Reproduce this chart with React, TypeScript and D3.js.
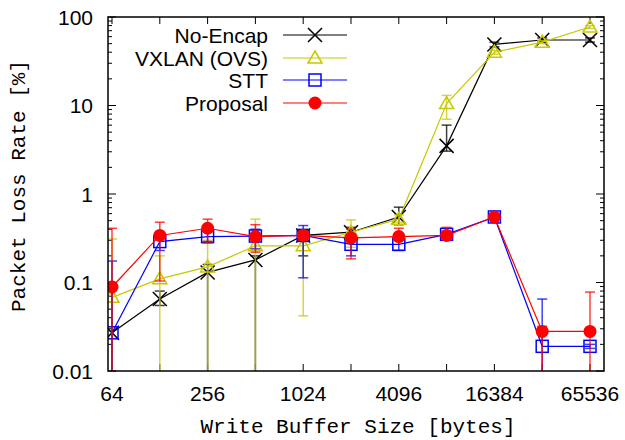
import { useEffect, useRef } from 'react';
import * as d3 from 'd3';

const sizes = [64, 128, 256, 512, 1024, 2048, 4096, 8192, 16384, 32768, 65536];
const xTickLabels = [64, 256, 1024, 4096, 16384, 65536];
const yTickLabels = [0.01, 0.1, 1, 10, 100];

// values and error bar limits (lower, upper) in %
const noEncap = [0.027, 0.065, 0.13, 0.18, 0.34, 0.37, 0.55, 3.5, 49, 55, 55];
const noEncapLo = [0.001, 0.055, 0.001, 0.001, 0.2, 0.33, 0.45, 3.05, 46, 52, 52];
const noEncapHi = [0.1, 0.08, 0.16, 0.2, 0.38, 0.42, 0.71, 6.0, 52, 58, 58];

const vxlan = [0.068, 0.11, 0.15, 0.26, 0.26, 0.37, 0.52, 10.5, 40, 52, 77];
const vxlanLo = [0.001, 0.001, 0.001, 0.001, 0.042, 0.25, 0.48, 7.0, 38, 50, 74];
const vxlanHi = [0.31, 0.2, 0.3, 0.52, 0.4, 0.51, 0.58, 13, 42, 54, 80];

const stt = [0.027, 0.29, 0.33, 0.335, 0.34, 0.27, 0.27, 0.35, 0.55, 0.019, 0.019];
const sttLo = [0.001, 0.23, 0.29, 0.24, 0.113, 0.2, 0.23, 0.32, 0.52, 0.001, 0.018];
const sttHi = [0.175, 0.36, 0.38, 0.4, 0.44, 0.34, 0.32, 0.38, 0.58, 0.065, 0.02];

const proposal = [0.089, 0.34, 0.41, 0.33, 0.34, 0.32, 0.33, 0.34, 0.55, 0.028, 0.028];
const proposalLo = [0.001, 0.104, 0.28, 0.22, 0.3, 0.185, 0.3, 0.31, 0.52, 0.001, 0.001];
const proposalHi = [0.41, 0.48, 0.52, 0.45, 0.38, 0.4, 0.41, 0.42, 0.6, 0.032, 0.078];

const seriesNames = ['No-Encap', 'VXLAN (OVS)', 'STT', 'Proposal'];
const seriesColors = ['#000000', '#c8c800', '#0000ff', '#ff0000'];
const seriesMarkers = ['cross', 'triangle', 'square', 'circle'];

const App = () => {
  const svgRef = useRef<SVGSVGElement>(null);

  useEffect(() => {
    const svg = d3.select(svgRef.current);
    svg.selectAll('*').remove();

    const left = 108, right = 604, top = 17, bottom = 371;
    const x = d3.scaleLog().base(2).domain([64, 65536]).range([112, 590]);
    const y = d3.scaleLog().domain([0.01, 100]).range([bottom, top]);

    const series = [
      { v: noEncap, lo: noEncapLo, hi: noEncapHi },
      { v: vxlan, lo: vxlanLo, hi: vxlanHi },
      { v: stt, lo: sttLo, hi: sttHi },
      { v: proposal, lo: proposalLo, hi: proposalHi },
    ];

    svg.append('defs').append('clipPath').attr('id', 'plot-clip')
      .append('rect').attr('x', left).attr('y', top)
      .attr('width', right - left).attr('height', bottom - top);

    const ticks = svg.append('g').attr('stroke', '#000').attr('stroke-width', 1);
    // y ticks (major + minor), left and right, pointing inward
    yTickLabels.forEach((d, i) => {
      [left, right].forEach((ax, k) => {
        const dir = k === 0 ? 1 : -1;
        ticks.append('line').attr('x1', ax).attr('x2', ax + dir * 8)
          .attr('y1', y(d)).attr('y2', y(d));
        if (i < yTickLabels.length - 1) {
          for (let m = 2; m < 10; m++) {
            const yy = y(d * m);
            ticks.append('line').attr('x1', ax).attr('x2', ax + dir * 4)
              .attr('y1', yy).attr('y2', yy);
          }
        }
      });
    });
    // x ticks at every power of two
    sizes.forEach(d => {
      [bottom, top].forEach((ay, k) => {
        const dir = k === 0 ? -1 : 1;
        ticks.append('line').attr('x1', x(d)).attr('x2', x(d))
          .attr('y1', ay).attr('y2', ay + dir * 7);
      });
    });

    const labels = svg.append('g')
      .attr('font-family', '"Liberation Sans", Arial, sans-serif')
      .attr('font-size', 21).attr('fill', '#000');
    yTickLabels.forEach(d => {
      labels.append('text').attr('x', 93).attr('y', y(d)).attr('dy', '0.36em')
        .attr('text-anchor', 'end').text(String(d));
    });
    xTickLabels.forEach(d => {
      labels.append('text').attr('x', x(d)).attr('y', 401)
        .attr('text-anchor', 'middle').text(String(d));
    });

    svg.append('text')
      .attr('font-family', '"Liberation Mono", "DejaVu Sans Mono", monospace')
      .attr('font-size', 21).attr('text-anchor', 'middle')
      .attr('x', (left + right) / 2 + 2).attr('y', 433)
      .text('Write Buffer Size [bytes]');
    svg.append('text')
      .attr('font-family', '"Liberation Mono", "DejaVu Sans Mono", monospace')
      .attr('font-size', 21).attr('text-anchor', 'middle')
      .attr('transform', `translate(25, ${186}) rotate(-90)`)
      .text('Packet Loss Rate [%]');

    const plot = svg.append('g').attr('clip-path', 'url(#plot-clip)');

    const drawMarker = (g: any, kind: string, color: string, cx: number, cy: number) => {
      if (kind === 'cross') {
        g.append('path').attr('d', `M${cx - 7},${cy - 7}L${cx + 7},${cy + 7}M${cx - 7},${cy + 7}L${cx + 7},${cy - 7}`)
          .attr('stroke', color).attr('stroke-width', 1.5).attr('fill', 'none');
      } else if (kind === 'triangle') {
        g.append('path').attr('d', `M${cx},${cy - 7}L${cx + 7},${cy + 5}L${cx - 7},${cy + 5}Z`)
          .attr('stroke', color).attr('stroke-width', 1.5).attr('fill', 'none');
      } else if (kind === 'square') {
        g.append('rect').attr('x', cx - 6).attr('y', cy - 6).attr('width', 12).attr('height', 12)
          .attr('stroke', color).attr('stroke-width', 1.5).attr('fill', 'none');
      } else {
        g.append('circle').attr('cx', cx).attr('cy', cy).attr('r', 6.5).attr('fill', color);
      }
    };

    const line = d3.line<number>().x((_, i) => x(sizes[i])).y(d => y(d));

    series.forEach((s, si) => {
      const color = seriesColors[si];
      const g = plot.append('g');
      // error bars
      s.v.forEach((_, i) => {
        const cx = x(sizes[i]);
        const y1 = y(s.lo[i]), y2 = y(s.hi[i]);
        g.append('line').attr('x1', cx).attr('x2', cx).attr('y1', y1).attr('y2', y2)
          .attr('stroke', color).attr('stroke-width', 1.5).attr('stroke-opacity', 0.75);
        [y1, y2].forEach(yy => {
          g.append('line').attr('x1', cx - 5).attr('x2', cx + 5).attr('y1', yy).attr('y2', yy)
            .attr('stroke', color).attr('stroke-width', 1.5).attr('stroke-opacity', 0.75);
        });
      });
      g.append('path').attr('d', line(s.v)).attr('fill', 'none')
        .attr('stroke', color).attr('stroke-width', 1.2);
      s.v.forEach((d, i) => drawMarker(g, seriesMarkers[si], color, x(sizes[i]), y(d)));
    });

    // frame
    svg.append('rect').attr('x', left).attr('y', top)
      .attr('width', right - left).attr('height', bottom - top)
      .attr('fill', 'none').attr('stroke', '#000').attr('stroke-width', 1.5);

    // legend
    const legend = svg.append('g');
    const rowY = [35, 58, 80, 103];
    seriesNames.forEach((name, i) => {
      const color = seriesColors[i];
      legend.append('text').attr('x', 268).attr('y', rowY[i]).attr('dy', '0.36em')
        .attr('text-anchor', 'end')
        .attr('font-family', '"Liberation Sans", Arial, sans-serif')
        .attr('font-size', 21).text(name);
      legend.append('line').attr('x1', 283).attr('x2', 347)
        .attr('y1', rowY[i]).attr('y2', rowY[i])
        .attr('stroke', color).attr('stroke-width', 1.2);
      drawMarker(legend, seriesMarkers[i], color, 315, rowY[i]);
    });
  }, []);

  return (
    <svg ref={svgRef} width={625} height={440}
      style={{ position: 'absolute', left: 0, top: 0, background: '#fff' }} />
  );
};

export default App;
